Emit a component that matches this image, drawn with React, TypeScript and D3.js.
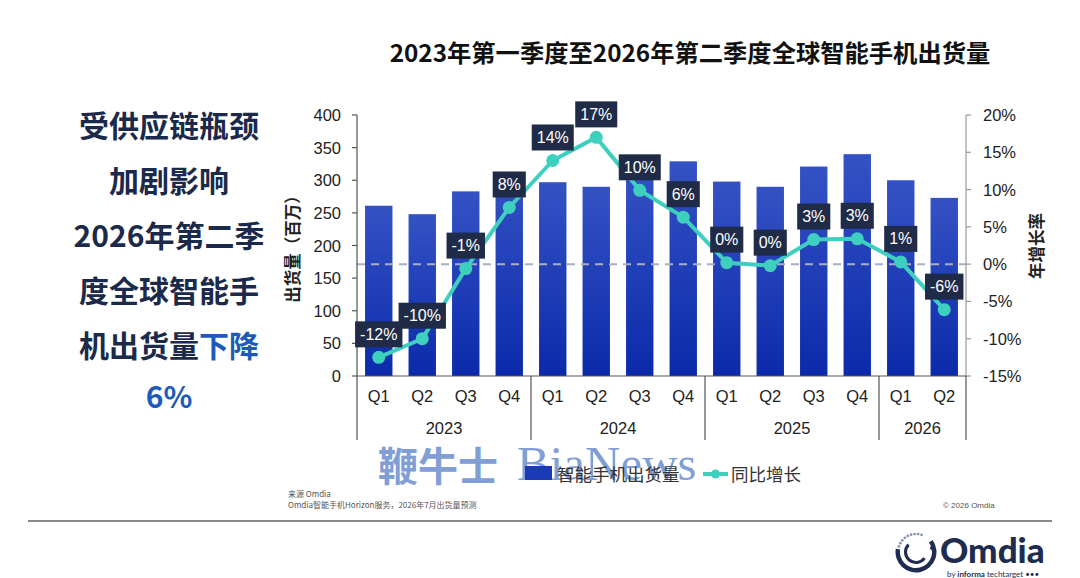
import React from 'react';
import * as d3 from 'd3';

const quarters = ['Q1', 'Q2', 'Q3', 'Q4', 'Q1', 'Q2', 'Q3', 'Q4', 'Q1', 'Q2', 'Q3', 'Q4', 'Q1', 'Q2'];
const years = ['2023', '2024', '2025', '2026'];
const yearCounts = [4, 4, 4, 2];
const shipments = [261, 248, 283, 311, 297, 290, 316, 329, 298, 290, 321, 340, 300, 273];
const growth = [-12.5, -10.0, -0.6, 7.6, 13.9, 17.0, 9.9, 6.3, 0.2, -0.2, 3.3, 3.4, 0.3, -6.1];
const growthLabels = ['-12%', '-10%', '-1%', '8%', '14%', '17%', '10%', '6%', '0%', '0%', '3%', '3%', '1%', '-6%'];
const leftTicks = [0, 50, 100, 150, 200, 250, 300, 350, 400];
const rightTicks = [-15, -10, -5, 0, 5, 10, 15, 20];

const title = '2023年第一季度至2026年第二季度全球智能手机出货量';
const sideLines = ['受供应链瓶颈', '加剧影响', '2026年第二季', '度全球智能手', '机出货量'];
const sideBlue = '下降';
const sideLast = '6%';

const CJK = '"Noto Sans CJK SC", "Noto Sans", sans-serif';
const SANS = '"Liberation Sans", Arial, sans-serif';

function textW(s: string, size: number) {
  let w = 0;
  for (const c of s) {
    if (c === '%') w += 0.889;
    else if (c === '-') w += 0.333;
    else w += 0.556;
  }
  return w * size;
}

export default function App() {
  const left = 357, right = 966, top = 115, bottom = 376;
  const x = d3.scaleBand<number>().domain(d3.range(quarters.length)).range([left, right]).paddingInner(0.37).paddingOuter(0.185);
  const step = x.step();
  const xb = (i: number) => left + step * i;
  const y = d3.scaleLinear().domain([0, 400]).range([bottom, top]);
  const y2 = d3.scaleLinear().domain([-15, 20]).range([bottom, top]);
  const cx = (i: number) => (x(i) as number) + x.bandwidth() / 2;
  const line = d3.line<number>().x((_, i) => cx(i)).y((d) => y2(d));

  let acc = 0;
  const groups = yearCounts.map((n, gi) => {
    const start = acc;
    acc += n;
    return { year: years[gi], start, end: acc };
  });

  return (
    <svg width={1080} height={578} style={{ position: 'absolute', left: 0, top: 0, background: '#fff' }}>
      <defs>
        <linearGradient id="barGrad" x1="0" y1="0" x2="0" y2="1">
          <stop offset="0%" stopColor="#3552c4" />
          <stop offset="100%" stopColor="#0a2aaa" />
        </linearGradient>
      </defs>
      <rect x={0} y={0} width={1080} height={578} fill="#fff" />

      {/* Title */}
      <text x={690} y={62} textAnchor="middle" fontFamily={CJK} fontWeight={700} fontSize={24.3} fill="#111">{title}</text>

      {/* Side text */}
      {sideLines.map((s, i) => (
        <text key={i} x={169} y={137 + i * 55} textAnchor="middle" fontFamily={CJK} fontWeight={700} fontSize={30} fill="#1b2a4a">
          {s}
          {i === sideLines.length - 1 ? <tspan fill="#1e5bb8">{sideBlue}</tspan> : null}
        </text>
      ))}
      <text x={169} y={408} textAnchor="middle" fontFamily={CJK} fontWeight={700} fontSize={30} fill="#1e5bb8">{sideLast}</text>

      {/* Bars */}
      {shipments.map((v, i) => (
        <rect key={i} x={x(i)} y={y(v)} width={x.bandwidth()} height={bottom - y(v)} fill="url(#barGrad)" />
      ))}

      {/* zero growth dashed line */}
      <line x1={left} x2={right} y1={y2(0)} y2={y2(0)} stroke="#a9aec4" strokeWidth={2} strokeDasharray="8,6" />

      {/* Left axis */}
      <line x1={left} x2={left} y1={top} y2={bottom} stroke="#555" strokeWidth={1.2} />
      {leftTicks.map((t) => (
        <g key={t}>
          <line x1={left - 5} x2={left} y1={y(t)} y2={y(t)} stroke="#555" strokeWidth={1.2} />
          <text x={341} y={y(t) + 6} textAnchor="end" fontFamily={SANS} fontSize={16.5} fill="#222">{t}</text>
        </g>
      ))}
      <text transform={`translate(299,245) rotate(-90)`} textAnchor="middle" fontFamily={CJK} fontWeight={700} fontSize={16.5} fill="#222">出货量（百万）</text>

      {/* Right axis */}
      <line x1={right} x2={right} y1={top} y2={bottom} stroke="#999" strokeWidth={1.2} />
      {rightTicks.map((t) => (
        <g key={t}>
          <line x1={right} x2={right + 5} y1={y2(t)} y2={y2(t)} stroke="#999" strokeWidth={1.2} />
          <text x={983} y={y2(t) + 6} textAnchor="start" fontFamily={SANS} fontSize={16.5} fill="#222">{t}%</text>
        </g>
      ))}
      <text transform={`translate(1043,246) rotate(-90)`} textAnchor="middle" fontFamily={CJK} fontWeight={700} fontSize={16.5} fill="#222">年增长率</text>

      {/* Bottom axis */}
      <line x1={left} x2={right} y1={bottom} y2={bottom} stroke="#555" strokeWidth={1.2} />
      {quarters.map((q, i) => (
        <text key={i} x={cx(i)} y={402} textAnchor="middle" fontFamily={SANS} fontSize={16.5} fill="#222">{q}</text>
      ))}
      {groups.map((g) => (
        <g key={g.year}>
          <line x1={xb(g.start)} x2={xb(g.start)} y1={bottom} y2={440} stroke="#555" strokeWidth={1.2} />
          <text x={(xb(g.start) + xb(g.end)) / 2} y={434} textAnchor="middle" fontFamily={SANS} fontSize={16.5} fill="#222">{g.year}</text>
        </g>
      ))}
      <line x1={right} x2={right} y1={bottom} y2={440} stroke="#555" strokeWidth={1.2} />

      {/* Growth line */}
      <path d={line(growth) || ''} fill="none" stroke="#3fcfbf" strokeWidth={4} strokeLinejoin="round" />
      {growth.map((g, i) => (
        <circle key={i} cx={cx(i)} cy={y2(g)} r={6.5} fill="#3fcfbf" />
      ))}
      {growth.map((g, i) => {
        const w = textW(growthLabels[i], 16) + 10;
        const by = y2(g) - 10;
        return (
          <g key={i}>
            <rect x={cx(i) - w / 2} y={by - 26} width={w} height={26} fill="#1f2b47" />
            <text x={cx(i)} y={by - 7.5} textAnchor="middle" fontFamily={SANS} fontSize={16} fill="#fff">{growthLabels[i]}</text>
          </g>
        );
      })}

      {/* Watermark */}
      <g opacity={0.8}>
        <text x={378} y={481} fontFamily={CJK} fontWeight={700} fontSize={40} fill="#6286cc">鞭牛士</text>
        <text x={517} y={480} fontFamily='"Liberation Serif", "DejaVu Serif", serif' fontSize={49} fill="#6286cc">BiaNews</text>
      </g>

      {/* Legend */}
      <rect x={525} y={466} width={27} height={14} fill="#1a3bb5" />
      <text x={557} y={481} fontFamily={CJK} fontSize={17.5} fill="#333">智能手机出货量</text>
      <line x1={703} x2={728} y1={474} y2={474} stroke="#3fcfbf" strokeWidth={4} />
      <circle cx={715.5} cy={474} r={4.5} fill="#3fcfbf" />
      <text x={731} y={481} fontFamily={CJK} fontSize={17.5} fill="#333">同比增长</text>

      {/* Footer */}
      <text x={288} y={497} fontFamily={CJK} fontSize={8} fill="#555">来源 Omdia</text>
      <text x={288} y={508} fontFamily={CJK} fontSize={8} fill="#555">Omdia智能手机Horizon服务，2026年7月出货量预测</text>
      <text x={943} y={508} fontFamily={SANS} fontSize={8} fill="#555">© 2026 Omdia</text>
      <line x1={28} x2={1052} y1={521} y2={521} stroke="#8a8a8a" strokeWidth={2} />

      {/* Omdia logo */}
      <g>
        <path d={d3.arc()({ innerRadius: 16, outerRadius: 20.5, startAngle: Math.PI * 0.3, endAngle: Math.PI * 1.55 }) || ''} transform="translate(916,552)" fill="#1e2d4f" />
        <path d={d3.arc()({ innerRadius: 9, outerRadius: 12, startAngle: Math.PI * 0.7, endAngle: Math.PI * 1.75 }) || ''} transform="translate(916,552)" fill="#1e2d4f" />
        {d3.range(9).map((k) => {
          const a = Math.PI * 1.6 + (k * Math.PI * 0.5) / 8 - Math.PI / 2;
          return <circle key={k} cx={916 + 18 * Math.cos(a)} cy={552 + 18 * Math.sin(a)} r={1.4} fill="#8a96b0" />;
        })}
        <circle cx={932} cy={548} r={2} fill="#1e2d4f" />
        <text x={940} y={563} fontFamily="Lato, sans-serif" fontWeight={900} fontSize={35} fill="#1e2d4f">Omdia</text>
        <text x={947} y={577} fontFamily="Lato, sans-serif" fontSize={8} fill="#1e2d4f">by <tspan fontWeight={700}>informa</tspan> techtarget •••</text>
      </g>
    </svg>
  );
}
